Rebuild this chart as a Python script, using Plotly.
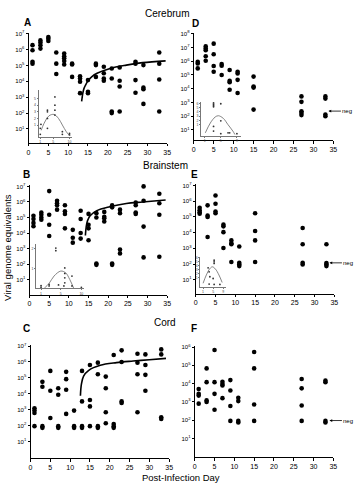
import plotly.graph_objects as go

W, H = 359, 485

# ---------------- data ----------------
# Panel A: Cerebrum
A_days = [1,1,1,1, 3,3,3,3, 5,5,5, 7,7,7, 9,9,9,9,9, 11,11,11, 13,13,13,13, 15,15,15,
          17,17,17, 19,19,19,19, 21,21,21,21, 23,23,23,23, 27,27,27,27, 29,29,29,29, 33,33,33,33]
A_vals = [1.9e6,9.1e5,1.7e5,1.3e5, 3.8e6,2.8e6,1.9e6,1.15e6, 6.2e6,4.9e6,3.5e6, 6.5e5,1.3e5,2.9e4,
          5.6e5,3.8e5,2.8e5,1.9e5,1.15e5, 1.3e5,1.15e5,1.9e4, 2.1e4,1.5e4,9.5e3,1.8e3, 1.2e4,2.2e3,1.8e3,
          1.3e5,1.05e5,1.9e4, 8.3e4,3.2e4,1.5e4,1.1e4, 6.5e4,1.5e4,1.25e2,1.0e2, 7.5e4,1.1e4,4.7e3,1.25e2,
          1.7e5,1.3e5,1.2e4,1.9e3, 1.05e5,4.0e3,3.2e3,3.8e2, 6.5e5,1.3e5,1.3e4,1.25e2]
A_fit_day = [13.4,13.7,14.0,14.5,15.0,16.0,17.3,20.6,24.7,28.8,34.6]
A_fit_val = [5.4e2,1.8e3,3.6e3,6.5e3,1.1e4,2.0e4,3.2e4,6.5e4,1.05e5,1.5e5,1.95e5]

# Panel D: Cerebrum (second group)
D_days = [1,1,1, 3,3,3,3,3, 5,5,5,5, 7,7,7, 9,9,9,9, 11,11,11,11, 15,15,15,15,
          27,27,27,27,27, 33,33,33,33]
D_vals = [9.1e5,6.9e5,3.0e5, 1.2e7,8.3e6,6.3e6,2.3e6,1.07e6, 1.9e7,3.2e6,4.5e5,1.7e5, 6.2e5,4.7e5,1.0e5,
          2.3e5,3.7e4,3.0e4,8.3e3, 1.7e5,1.3e5,4.4e4,4.8e3, 7.6e4,1.45e4,1.2e4,3.0e2,
          2.75e3,1.1e3,2.3e2,1.7e2,1.2e2, 2.75e3,1.9e3,1.3e2,1.0e2]

# Panel B: Brainstem
B_days = [1,1,1,1, 3,3,3,3, 5,5,5,5, 7,7,7,7, 9,9,9,9, 11,11,11, 13,13,13,13, 15,15,15,15,
          17,17,17,17, 19,19,19,19, 21,21,21,21, 23,23,23,23, 27,27,27,27, 29,29,29,29, 33,33,33,33]
B_vals = [1.3e5,8.1e4,4.5e4,2.75e4, 2.1e5,1.5e5,1.0e5,7.2e4, 5.0e6,1.5e5,3.4e4,6.5e3,
          1.2e6,8.3e5,6.2e5,3.2e5, 6.2e5,2.5e5,1.7e5,2.0e4, 1.6e4,5.0e3,2.4e3,
          2.75e5,8.1e4,1.0e4,4.4e3, 1.7e5,3.4e4,2.0e4,3.4e3, 1.9e5,1.0e5,1.1e2,9.0e1,
          2.3e5,1.1e5,9.0e4,5.5e4, 6.2e5,4.5e5,1.1e2,9.0e1, 3.2e5,1.9e5,8.7e2,4.9e2,
          9.1e5,6.2e5,2.1e5,1.7e5, 1.0e7,1.2e6,2.6e4,2.7e2, 3.4e6,8.3e5,1.5e5,3.0e2]
B_fit_day = [14.2,14.4,14.75,15.4,17.1,20.4,24.6,28.75,34.6]
B_fit_val = [7.0e3,2.4e4,6.3e4,1.3e5,2.75e5,4.9e5,7.9e5,1.0e6,1.35e6]

# Panel E: Brainstem (second group)
E_days = [1,1,1,1, 3,3,3,3, 5,5,5,5, 7,7,7,7, 9,9,9,9, 11,11,11,11, 15,15,15,15,
          27,27,27,27, 33,33,33,33]
E_vals = [3.8e5,2.6e5,2.0e5,1.6e5, 5.4e5,1.2e5,9.8e4,5.2e3, 2.3e6,6.8e5,2.2e5,1.7e5,
          3.2e4,2.5e4,1.07e4,1.05e3, 3.2e3,2.1e3,1.8e3,1.35e2, 1.3e3,1.2e2,9.5e1,7.4e1,
          1.7e5,1.26e4,3.2e3,1.35e2, 1.95e4,1.8e3,1.2e2,9.5e1, 1.8e3,1.15e2,9.5e1,7.4e1]

# Panel C: Cord
C_days = [1,1,1,1, 3,3,3,3, 5,5,5, 7,7,7,7, 9,9,9,9, 11,11,11, 13,13,13,13, 15,15,15,15,
          17,17,17,17, 19,19,19,19, 21,21,21,21, 23,23,23,23, 27,27,27,27, 29,29,29,29, 33,33,33,33]
C_vals = [1.2e3,8.7e2,6.2e2,9.1e1, 5.6e4,2.75e4,9.1e1,7.1e1, 2.75e5,1.55e4,3.0e2,
          2.2e4,8.7e3,9.1e1,7.1e1, 2.4e5,8.3e4,1.8e4,5.4e2, 8.7e2,9.1e1,7.1e1,
          2.75e5,3.3e3,9.1e1,7.1e1, 6.5e5,4.0e3,1.6e3,9.1e1, 9.1e5,1.7e5,9.1e1,7.1e1,
          1.2e5,2.2e4,6.8e2,1.4e2, 2.75e6,1.25e2,9.1e1,7.1e1, 5.4e6,1.0e6,3.3e3,2.6e3,
          3.3e6,9.1e5,1.7e5,6.8e2, 3.0e6,6.5e5,1.55e5,1.55e4, 6.2e6,3.0e6,3.3e2,2.6e2]
C_fit_day = [12.6,12.85,13.4,14.7,17.6,21.7,25.9,30.0,34.2]
C_fit_val = [7.5e3,4.0e4,1.3e5,3.0e5,6.2e5,9.1e5,1.15e6,1.4e6,1.7e6]

# Panel F: Cord (second group)
F_days = [1,1,1,1, 3,3,3,3, 5,5,5,5, 7,7,7,7, 9,9,9,9, 11,11,11,11, 15,15,15,15,
          27,27,27,27, 33,33,33,33]
F_vals = [5.1e3,2.75e3,2.2e3,8.0e2, 6.8e4,1.2e4,1.2e3,9.8e2, 6.9e5,1.2e4,2.75e3,3.7e2,
          1.26e4,9.5e3,7.8e3,1.6e3, 1.55e4,4.2e3,5.9e2,9.1e1, 1.66e3,1.1e3,9.1e1,7.4e1,
          5.4e5,6.8e4,7.2e2,9.1e1, 1.8e4,5.5e3,6.3e2,9.1e1, 1.45e4,1.2e4,9.1e1,7.4e1]

# Insets (small secondary plots)
Ain_x = [1.2,1,1, 3.2,3.2,3.2,3.2, 5.5,5.5,5.5,5.5, 7.8,7.8, 10,10]
Ain_y = [1.1,0.5,-0.4, 3.25,3.0,2.0,0.5, 5.25,4.0,3.25,2.5, 0,-0.4, -0.25,-0.5]
Ain_fx = [1.3,1.7,2.7,3.7,5.2,6.6,7.8,9.0,9.8]
Ain_fy = [0.2,0.75,1.75,2.4,2.6,2.0,1.0,0,-0.5]

Bin_x = [1,1, 2.8,2.8, 4.3,4.3, 4.9, 6.3,6.3,6.3,6.3, 6.1, 7.9,7.9, 10]
Bin_y = [0.13,0.05, 0.2,0.12, 2.03,1.9, 0.17, 1.03,0.75,0.53,0.28, 0.12, 0.62,0.12, 0.05]
Bin_fx = [1.7,2.8,3.9,5.4,6.5,7.4,8.3]
Bin_fy = [0,0.25,0.62,0.87,0.78,0.45,0]

Din_x = [3.2,3.2,3.2,3.2, 5,5, 3.2,3.2, 5,5, 6.8,7.2, 9]
Din_y = [6.1,5.8,5.5,5.2, 6.3,5.9, 0.6,-0.5, 1.9,-1.1, -0.9,-0.9, -1.1]
Din_fx = [1.16,2.4,3.6,4.4,5.6,6.8,8.0,8.5]
Din_fy = [-0.9,1.4,2.8,3.1,2.5,1.0,-0.5,-1.3]

Ein_x = [3,3.4,3.7,3.4, 5.4,5.4,5.4, 5,5.4, 7.7]
Ein_y = [3.5,2.5,1.25,-0.6, 5.4,5.0,4.6, 0.8,-0.7, -0.7]
Ein_fx = [1,2.3,3.7,4.7,5.9,7.3,8.6]
Ein_fy = [-0.4,1.7,3.3,3.75,3.2,1.7,-0.2]

x_ticks = [0,5,10,15,20,25,30,35]

# ---------------- layout helpers ----------------
def px_x(p):
    return p / W

def px_y(p):
    return 1 - p / H

FONT = "Liberation Sans, Arial, sans-serif"

fig = go.Figure()
layout = dict(width=W, height=H, margin=dict(l=0, r=0, t=0, b=0),
              paper_bgcolor="white", plot_bgcolor="rgba(0,0,0,0)",
              showlegend=False, font=dict(family=FONT, color="black"))

# main panels: key, x0, x1, ybottom, ytop (pixels), y range (log10), max exponent
panels = [
    ("A", 27, 168, 140, 29, [0.125, 7.06], 7, A_days, A_vals, A_fit_day, A_fit_val),
    ("D", 195, 337, 137.5, 29, [0.24, 8.07], 8, D_days, D_vals, None, None),
    ("B", 28, 168, 293, 183, [0.04, 7.06], 7, B_days, B_vals, B_fit_day, B_fit_val),
    ("E", 197, 338, 292, 182, [0.12, 7.06], 7, E_days, E_vals, None, None),
    ("C", 29, 170, 458, 344, [-0.06, 7.06], 7, C_days, C_vals, C_fit_day, C_fit_val),
    ("F", 196, 337, 457, 345, [-0.03, 6.05], 6, F_days, F_vals, None, None),
]

n = 0
for key, x0, x1, yb, yt, yr, emax, dd, vv, fd, fv in panels:
    n += 1
    xa = "xaxis" if n == 1 else f"xaxis{n}"
    ya = "yaxis" if n == 1 else f"yaxis{n}"
    xr = "x" if n == 1 else f"x{n}"
    yrf = "y" if n == 1 else f"y{n}"
    layout[xa] = dict(domain=[px_x(x0), px_x(x1)], range=[0, 35], anchor=yrf,
                      showline=True, linecolor="black", linewidth=1,
                      ticks="outside", ticklen=2.5, tickwidth=1, tickcolor="black",
                      tickvals=x_ticks, tickfont=dict(size=7, family=FONT),
                      showgrid=False, zeroline=False, fixedrange=True)
    exps = list(range(1, emax + 1))
    layout[ya] = dict(domain=[px_y(yb), px_y(yt)], range=yr, type="log", anchor=xr,
                      showline=True, linecolor="black", linewidth=1,
                      ticks="outside", ticklen=2, tickwidth=1, tickcolor="black",
                      tickvals=[10 ** e for e in exps],
                      ticktext=[f"10<sup>{e}</sup>" for e in exps],
                      tickfont=dict(size=6, family=FONT),
                      showgrid=False, zeroline=False, fixedrange=True)
    fig.add_trace(go.Scatter(x=dd, y=vv, mode="markers", xaxis=xr, yaxis=yrf,
                             marker=dict(size=4.6, color="black"), cliponaxis=False))
    if fd is not None:
        fig.add_trace(go.Scatter(x=fd, y=fv, mode="lines", xaxis=xr, yaxis=yrf,
                                 line=dict(color="black", width=1.6, shape="spline")))

# insets: x0, x1, ybottom, ytop (pixels), xrange, yrange, xticks, yticks, data
insets = [
    (37.3, 71.3, 133.7, 87, [0.5, 10.8], [-0.75, 6.25], [1, 5, 10], [1, 2, 3, 4, 5],
     Ain_x, Ain_y, Ain_fx, Ain_fy),
    (202.7, 243, 132.7, 99.3, [0.16, 10], [-1.55, 6.2], [1, 5, 9], [1, 2, 3, 4, 5, 6],
     Din_x, Din_y, Din_fx, Din_fy),
    (34.7, 83, 286.7, 241.7, [-0.1, 10.5], [0, 2.25], [1, 5.4, 10], [1, 2],
     Bin_x, Bin_y, Bin_fx, Bin_fy),
    (201.7, 228, 285, 255, [-0.1, 10.2], [-1.25, 6.25], [1, 5, 9], [1, 2, 3, 4, 5, 6],
     Ein_x, Ein_y, Ein_fx, Ein_fy),
]
xtick_text = [["1", "5", "10"], ["1", "5", "9"], ["1", "5", "10"], ["1", "5", "9"]]
for i, (x0, x1, yb, yt, xrng, yrng, xt, yt_, ix, iy, fx, fy) in enumerate(insets):
    n += 1
    xa, ya, xr, yrf = f"xaxis{n}", f"yaxis{n}", f"x{n}", f"y{n}"
    layout[xa] = dict(domain=[px_x(x0), px_x(x1)], range=xrng, anchor=yrf,
                      showline=True, linecolor="#777", linewidth=0.7,
                      ticks="outside", ticklen=1.2, tickwidth=0.5, tickcolor="#777",
                      tickvals=xt, ticktext=xtick_text[i], tickfont=dict(size=3.5, color="#444"),
                      showgrid=False, zeroline=False, fixedrange=True)
    layout[ya] = dict(domain=[px_y(yb), px_y(yt)], range=yrng, anchor=xr,
                      showline=True, linecolor="#777", linewidth=0.7,
                      ticks="outside", ticklen=1.2, tickwidth=0.5, tickcolor="#777",
                      tickvals=yt_, tickfont=dict(size=3.5, color="#444"),
                      showgrid=False, zeroline=False, fixedrange=True)
    fig.add_trace(go.Scatter(x=fx, y=fy, mode="lines", xaxis=xr, yaxis=yrf,
                             line=dict(color="#666", width=0.8, shape="spline")))
    fig.add_trace(go.Scatter(x=ix, y=iy, mode="markers", xaxis=xr, yaxis=yrf,
                             marker=dict(size=1.8, color="#333"), cliponaxis=False))

ann = []
def text_ann(txt, x, y, size, angle=0):
    return dict(text=txt, x=px_x(x), y=px_y(y), xref="paper", yref="paper",
                xanchor="center", yanchor="middle", showarrow=False, textangle=angle,
                font=dict(size=size, family=FONT))

# section titles
for txt, x, y in [("Cerebrum", 168, 10), ("Brainstem", 166, 163), ("Cord", 166, 321)]:
    ann.append(text_ann(txt, x, y, 10))
# panel letters
for txt, x, y in [("A", 26, 19), ("D", 197, 20), ("B", 25, 172), ("E", 196, 172),
                  ("C", 25, 327), ("F", 195, 327)]:
    ann.append(text_ann(f"<b>{txt}</b>", x, y, 10))
# axis labels
ann.append(text_ann("Post-Infection Day", 182, 477, 9.5))
ann.append(text_ann("Viral genome equivalents", 6, 245, 9.5, angle=-90))
# "neg" arrows
for x, y in [(332, 108), (333, 261), (333, 420)]:
    ann.append(dict(text="neg", x=px_x(x), y=px_y(y), xref="paper", yref="paper",
                    showarrow=True, ax=19, ay=0, arrowhead=2, arrowsize=0.7, arrowwidth=0.8,
                    arrowcolor="black", font=dict(size=6, family=FONT)))
layout["annotations"] = ann
fig.update_layout(**layout)
fig.write_html("out.html")
